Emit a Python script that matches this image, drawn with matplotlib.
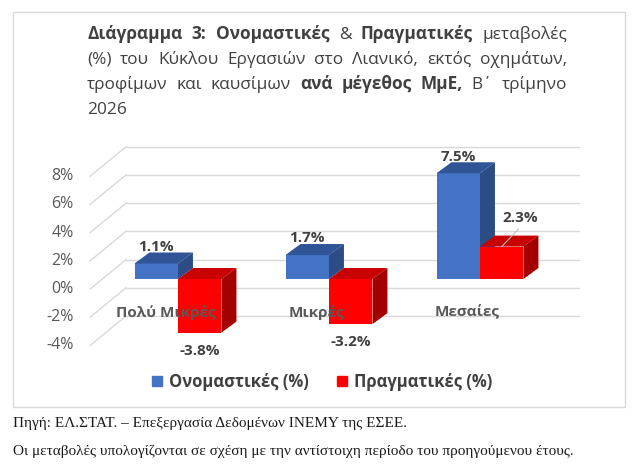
import matplotlib
matplotlib.use("Agg")
import matplotlib.pyplot as plt
from matplotlib.patches import Polygon, Rectangle, Patch
import numpy as np

# ===== ДАННЫЕ =====
categories = ["Πολύ Μικρές", "Μικρές", "Μεσαίες"]
nominal = [1.1, 1.7, 7.5]
real = [-3.8, -3.2, 2.3]
series_names = ["Ονομαστικές (%)", "Πραγματικές (%)"]
yticks = [-4, -2, 0, 2, 4, 6, 8]

title_lines = [
    [("Διάγραμμα", True), ("3:", True), ("Ονομαστικές", True), ("&", False),
     ("Πραγματικές", True), ("μεταβολές", False)],
    [("(%)", False), ("του", False), ("Κύκλου", False), ("Εργασιών", False),
     ("στο", False), ("Λιανικό,", False), ("εκτός", False), ("οχημάτων,", False)],
    [("τροφίμων", False), ("και", False), ("καυσίμων", False), ("ανά", True),
     ("μέγεθος", True), ("ΜμΕ,", True), ("Β΄", False), ("τρίμηνο", False)],
    [("2026", False)],
]
footer_lines = [
    "Πηγή: ΕΛ.ΣΤΑΤ. – Επεξεργασία Δεδομένων ΙΝΕΜΥ της ΕΣΕΕ.",
    "Οι μεταβολές υπολογίζονται σε σχέση με την αντίστοιχη περίοδο του προηγούμενου έτους.",
]

# ===== НАСТРОЙКИ =====
W, H = 640, 469
sans = ["Open Sans", "DejaVu Sans"]
serif = ["Liberation Serif", "DejaVu Serif"]
dark = "#404040"
gray = "#595959"
gridColor = "#D9D9D9"
blue = ("#4472C4", "#2F5597", "#2B4C84")   # front, top, side
red = ("#FF0000", "#C80000", "#A50000")

barWidth = 0.288
barDx, barDy = 0.099, 0.78        # глубина столбца
backDx, backDy = 0.156, 1.38      # задняя стенка
frontDx, frontDy = -0.082, -0.71  # передний край пола


def fx(px):
    return px / W


def fy(py):
    return 1 - py / H


fig = plt.figure(figsize=(W / 100, H / 100), dpi=100)
renderer = fig.canvas.get_renderer()

# рамка диаграммы
fig.patches.append(Rectangle((fx(13), fy(407)), fx(625) - fx(13), fy(12) - fy(407),
                             transform=fig.transFigure, fill=False,
                             edgecolor=gridColor, linewidth=1))

ax = fig.add_axes([fx(102.5), fy(335.4), (555.5 - 102.5) / W, (335.4 - 166.2) / H])
ax.set_xlim(-0.5, 2.5)
ax.set_ylim(-4, 8)
ax.axis("off")

# сетка на задней и боковой стенке + подписи оси
for v in yticks:
    ax.plot([-0.5 + backDx, 2.5 + backDx], [v + backDy] * 2,
            color=gridColor, lw=1, zorder=1, clip_on=False)
    ax.plot([-0.5 + frontDx, -0.5 + backDx], [v + frontDy, v + backDy],
            color=gridColor, lw=1, zorder=1, clip_on=False)
    ax.text(-0.5 + frontDx - 0.11, v + frontDy, f"{v}%", ha="right", va="center",
            fontsize=11.5, color=gray, family=sans)

x = np.arange(len(categories))


def draw_bars(xpos, vals, colors):
    bars = ax.bar(xpos, vals, barWidth, color=colors[0], zorder=3, clip_on=False)
    for b, v in zip(bars, vals):
        xl = b.get_x()
        xr = xl + b.get_width()
        yb, yt = min(0, v), max(0, v)
        top = [(xl, yt), (xr, yt), (xr + barDx, yt + barDy), (xl + barDx, yt + barDy)]
        side = [(xr, yb), (xr, yt), (xr + barDx, yt + barDy), (xr + barDx, yb + barDy)]
        ax.add_patch(Polygon(top, closed=True, facecolor=colors[1], edgecolor="none",
                             zorder=3, clip_on=False))
        ax.add_patch(Polygon(side, closed=True, facecolor=colors[2], edgecolor="none",
                             zorder=3, clip_on=False))


draw_bars(x - barWidth / 2, nominal, blue)
draw_bars(x + barWidth / 2, real, red)

# подписи категорий
for i, c in enumerate(categories):
    ax.text(i + frontDx, -2.35, c, ha="center", va="center", fontsize=11,
            fontweight="bold", color=gray, family=sans, zorder=5)

# подписи значений
for xpos, vals in [(x - barWidth / 2, nominal), (x + barWidth / 2, real)]:
    for xi, v in zip(xpos, vals):
        if v < 0:
            ax.text(xi, v - 1.3, f"{v:.1f}%", ha="center", va="center", fontsize=11,
                    fontweight="bold", color=dark, family=sans, zorder=6)
        elif v < 2.5 and xi > 1.5:
            # выносная подпись
            ax.plot([xi, xi + 0.112], [v, v + 1.25], color="#BFBFBF", lw=0.8, zorder=6)
            ax.text(xi + 0.12, v + 2.03, f"{v:.1f}%", ha="center", va="center",
                    fontsize=11, fontweight="bold", color=dark, family=sans, zorder=6)
        else:
            ax.text(xi, v + 1.18, f"{v:.1f}%", ha="center", va="center", fontsize=11,
                    fontweight="bold", color=dark, family=sans, zorder=6)

# легенда
handles = [Patch(color=blue[0]), Patch(color=red[0])]
leg = fig.legend(handles, series_names, loc="center", bbox_to_anchor=(fx(322), fy(382)),
                 ncol=2, frameon=False, handlelength=0.6, handleheight=0.6,
                 handletextpad=0.4, columnspacing=1.7,
                 prop=dict(family=sans, weight="bold", size=12))
for t in leg.get_texts():
    t.set_color(dark)

# заголовок с выравниванием по ширине
titleLeft, titleRight = 87, 567
baselines = [39, 64, 89, 114]
for words, yb in zip(title_lines, baselines):
    texts = [fig.text(0, fy(yb), w, fontsize=12.4, fontweight="bold" if b else "normal",
                      color=dark, family=sans, va="baseline") for w, b in words]
    widths = [t.get_window_extent(renderer).width for t in texts]
    if len(texts) > 1:
        gap = (titleRight - titleLeft - sum(widths)) / (len(texts) - 1)
    else:
        gap = 0
    xc = titleLeft
    for t, w in zip(texts, widths):
        t.set_x(fx(xc))
        xc += w + gap

# примечания
for line, yb in zip(footer_lines, [427, 455]):
    fig.text(fx(13), fy(yb), line, fontsize=11, color="#1A1A1A", family=serif,
             va="baseline")

fig.savefig("out.png", dpi=100)
